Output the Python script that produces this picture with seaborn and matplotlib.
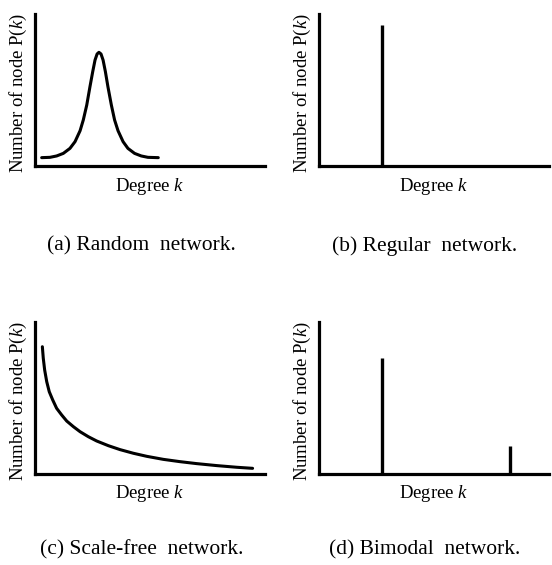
import matplotlib
matplotlib.use("Agg")
import matplotlib.pyplot as plt
import seaborn as sns
import pandas as pd

# (a) random network - bell shaped curve
random_k = [2.9, 6.5, 9.4, 12.3, 15.2, 17.4, 19.6, 21.0, 22.5, 23.9, 25.1, 26.1, 27.0, 27.8,
            28.7, 29.6, 30.6, 31.7, 33.2, 34.6, 36.1, 38.3, 40.4, 43.3, 46.2, 49.1, 53.6]
random_p = [5.3, 5.5, 6.4, 8.1, 11.4, 15.8, 23.0, 30.1, 39.9, 52.0, 61.9, 69.5, 73.5, 74.6,
            73.5, 69.5, 61.9, 52.0, 39.9, 30.1, 23.0, 15.8, 11.4, 8.1, 6.4, 5.5, 5.3]

# (b) regular network - single spike
regular_k = [27.4]
regular_p = [92.8]

# (c) scale-free network - decaying curve
scalefree_k = [3.2, 3.6, 4.2, 5.1, 6.2, 7.7, 9.4, 11.6, 13.8, 16.7, 19.6, 23.2, 26.8,
               31.9, 37.0, 42.8, 48.6, 55.8, 63.0, 70.3, 79.0, 87.7, 94.6]
scalefree_p = [83.4, 75.8, 68.1, 60.4, 53.8, 48.4, 42.9, 38.5, 34.5, 30.8, 27.5, 24.2, 21.4,
               18.3, 15.7, 13.3, 11.3, 9.3, 7.8, 6.5, 5.2, 4.1, 3.4]

# (d) bimodal network - two spikes
bimodal_k = [27.4, 83.0]
bimodal_p = [75.7, 17.8]

captions = ["(a) Random  network.", "(b) Regular  network.",
            "(c) Scale-free  network.", "(d) Bimodal  network."]

sns.set_theme(style="white")
plt.rcParams["font.family"] = ["Liberation Serif", "DejaVu Serif"]
plt.rcParams["mathtext.fontset"] = "custom"
plt.rcParams["mathtext.it"] = "Liberation Serif:italic"
plt.rcParams["mathtext.rm"] = "Liberation Serif"
plt.rcParams["text.color"] = "black"
plt.rcParams["axes.labelcolor"] = "black"

W, H = 552, 565
fig = plt.figure(figsize=(W / 100, H / 100), dpi=100)

# axes boxes in pixels: left, x-axis y, width, height
boxes = [(35, 165.7, 230, 152), (319, 165.7, 230, 152),
         (35, 473.5, 230, 152), (319, 473.5, 230, 152)]
axes = []
for (l, b, w, h) in boxes:
    ax = fig.add_axes([l / W, (H - b) / H, w / W, h / H])
    ax.set_xlim(0, 100)
    ax.set_ylim(0, 100)
    ax.set_xticks([])
    ax.set_yticks([])
    sns.despine(ax=ax)
    for s in ["left", "bottom"]:
        ax.spines[s].set_linewidth(2.3)
        ax.spines[s].set_color("black")
    # set labels first, seaborn leaves existing labels alone
    ax.set_xlabel("Degree $k$", fontsize=13.5)
    ax.set_ylabel("Number of node P($k$)", fontsize=13.5)
    axes.append(ax)

line_kw = dict(color="black", linewidth=2.2, sort=False,
               solid_capstyle="round", solid_joinstyle="round")

df_a = pd.DataFrame({"k": random_k, "p": random_p})
sns.lineplot(data=df_a, x="k", y="p", ax=axes[0], **line_kw)

axes[1].vlines(regular_k, 0, regular_p, color="black", linewidth=2.4)

df_c = pd.DataFrame({"k": scalefree_k, "p": scalefree_p})
sns.lineplot(data=df_c, x="k", y="p", ax=axes[2], **line_kw)

axes[3].vlines(bimodal_k, 0, bimodal_p, color="black", linewidth=2.4)

for ax in axes:
    ax.xaxis.label.set_visible(True)
    ax.yaxis.label.set_visible(True)
    ax.xaxis.set_label_coords(0.5, -0.065)
    ax.yaxis.set_label_coords(-0.028, 0.48)

cap_pos = [(141.5, 246), (425, 246), (141.5, 550), (425, 550)]
for (x, y), c in zip(cap_pos, captions):
    fig.text(x / W, 1 - y / H, c, ha="center", va="center", fontsize=15.5)

fig.savefig("out.png", dpi=100)
